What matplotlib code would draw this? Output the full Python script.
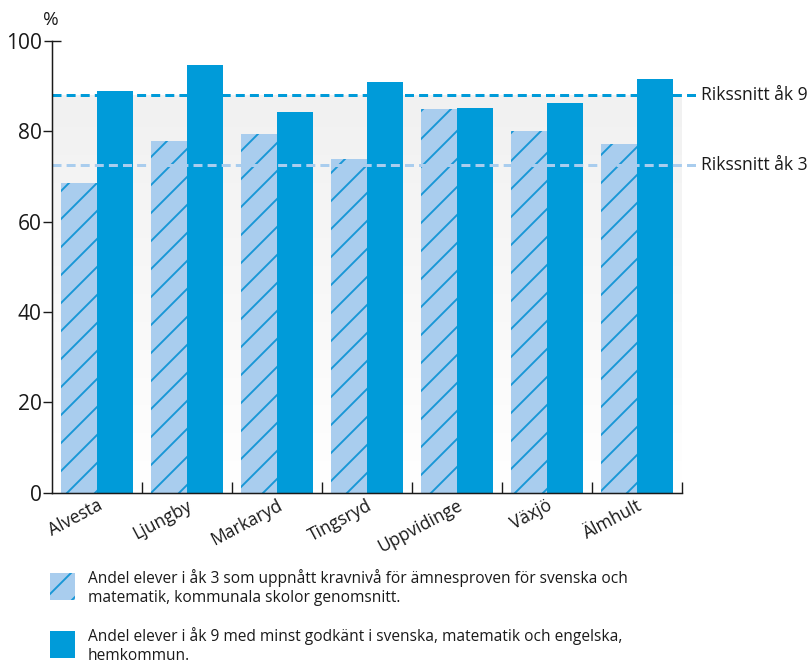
import numpy as np
import matplotlib
matplotlib.use("Agg")
import matplotlib.pyplot as plt
import matplotlib.patches as patches
from matplotlib.colors import LinearSegmentedColormap
import matplotlib.transforms as mtransforms

municipalities = ["Alvesta", "Ljungby", "Markaryd", "Tingsryd", "Uppvidinge", "Växjö", "Älmhult"]
grade3 = [68.6, 77.9, 79.4, 73.9, 84.9, 80.1, 77.2]
grade9 = [88.9, 94.7, 84.3, 90.9, 85.2, 86.3, 91.6]
national9 = 88.0
national3 = 72.6
yticks = [0, 20, 40, 60, 80, 100]
legend_texts = [
    "Andel elever i åk 3 som uppnått kravnivå för ämnesproven för svenska och\nmatematik, kommunala skolor genomsnitt.",
    "Andel elever i åk 9 med minst godkänt i svenska, matematik och engelska,\nhemkommun.",
]

# hatch spacing depends on dpi, so pick dpi to get ~28 px spacing with '//'
DPI = 168
PT = 72 / DPI  # pixels -> points

plt.rcParams['font.family'] = ['Open Sans', 'DejaVu Sans']
plt.rcParams['hatch.linewidth'] = 1.9 * PT

dark = '#009bd9'
light = '#a9cdee'
hatchc = '#1897d6'
ink = '#1a1a1a'

fig = plt.figure(figsize=(811 / DPI, 666 / DPI), dpi=DPI)
ax = fig.add_axes([52 / 811, 173.3 / 666, 630 / 811, 452 / 666])

x = np.arange(len(municipalities))
w = 0.4

# soft gray gradient behind the bars, up to the national level
grad = LinearSegmentedColormap.from_list('g', ['#ffffff', '#f1f1f1'])
ax.imshow(np.linspace(0, 1, 100).reshape(-1, 1), cmap=grad, origin='lower',
          extent=(-0.5, len(x) - 0.5, 0, national9), aspect='auto', zorder=0)

ax.bar(x, grade3, width=-w, align='edge', color=light, edgecolor=hatchc,
       hatch='//', linewidth=0, zorder=2)
ax.bar(x, grade9, width=w, align='edge', color=dark, linewidth=0, zorder=2)

trans = mtransforms.blended_transform_factory(ax.transAxes, ax.transData)
for val, col, lab in [(national9, dark, "Rikssnitt åk 9"), (national3, light, "Rikssnitt åk 3")]:
    ax.plot([0, 1.024], [val, val], transform=trans, color=col, lw=3 * PT,
            dashes=(3, 1.7), clip_on=False, zorder=3)
    ax.text(1.030, val, lab, transform=trans, ha='left', va='center',
            fontsize=17.5 * PT, color=ink)

ax.set_xlim(-0.5, len(x) - 0.5)
ax.set_ylim(0, 100)

ax.set_yticks(yticks)
ax.set_yticklabels([str(v) for v in yticks], fontsize=21 * PT, color=ink)
ax.tick_params(axis='y', direction='out', length=9 * PT, width=1.4 * PT, pad=1 * PT, color=ink)
# top tick crosses the axis (T shape)
top = ax.yaxis.get_major_ticks()[-1]
top.tick1line.set_marker('_')
top.tick1line.set_markersize(17 * PT)

ax.set_xticks(x)
ax.set_xticklabels(municipalities, rotation=28, ha='right', rotation_mode='anchor',
                   fontsize=17.5 * PT, color=ink)
ax.tick_params(axis='x', which='major', length=0, pad=4 * PT)
ax.set_xticks(x + 0.5, minor=True)
ax.tick_params(axis='x', which='minor', direction='in', length=11 * PT, width=1.4 * PT, color=ink)

for s in ['top', 'right']:
    ax.spines[s].set_visible(False)
for s in ['left', 'bottom']:
    ax.spines[s].set_linewidth(1.5 * PT)
    ax.spines[s].set_color(ink)
    ax.spines[s].set_zorder(4)

fig.text(51 / 811, 1 - 20 / 666, "%", ha='center', va='center', fontsize=19 * PT, color=ink)

# legend
fig.add_artist(patches.Rectangle((50 / 811, 1 - 600 / 666), 25 / 811, 27 / 666,
                                 transform=fig.transFigure, facecolor=light,
                                 edgecolor=hatchc, hatch='//', linewidth=0))
fig.add_artist(patches.Rectangle((50 / 811, 1 - 658 / 666), 25 / 811, 27 / 666,
                                 transform=fig.transFigure, facecolor=dark, linewidth=0))
fig.text(88 / 811, 1 - 569 / 666, legend_texts[0], ha='left', va='top',
         fontsize=15.5 * PT, color=ink, linespacing=1.25)
fig.text(88 / 811, 1 - 627 / 666, legend_texts[1], ha='left', va='top',
         fontsize=15.5 * PT, color=ink, linespacing=1.25)

fig.savefig("out.png", dpi=DPI)
